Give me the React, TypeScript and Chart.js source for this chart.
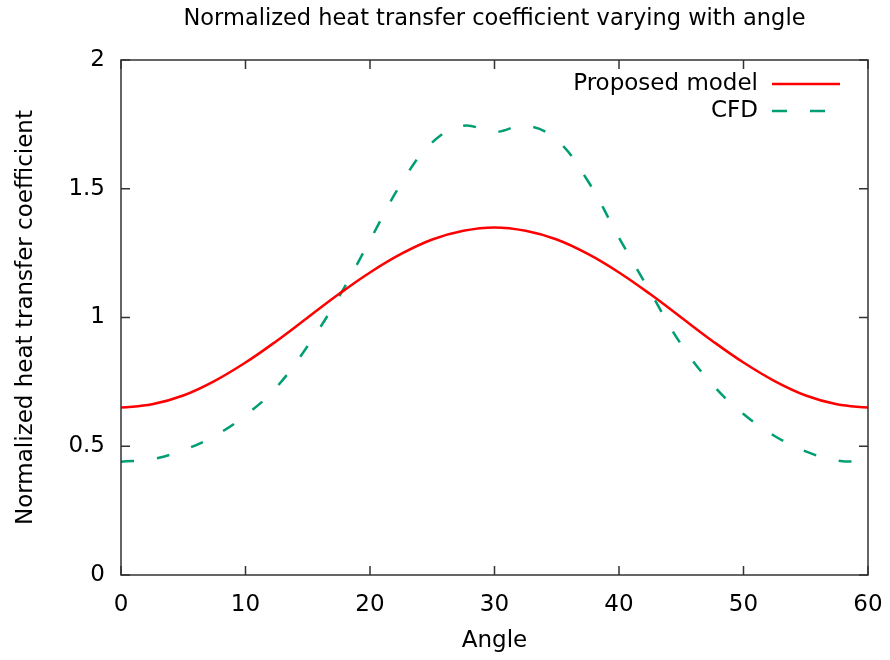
import React, { useEffect, useRef } from "react";
import { Chart, registerables } from "chart.js";

Chart.register(...registerables);

const angles = [0, 2.5, 5, 7.5, 10, 12.5, 15, 17.5, 20, 22.5, 25, 27.5, 30, 32.5, 35, 37.5, 40, 42.5, 45, 47.5, 50, 52.5, 55, 57.5, 60];
const proposedModel = [0.65, 0.663, 0.697, 0.753, 0.825, 0.909, 1.0, 1.091, 1.175, 1.247, 1.303, 1.337, 1.35, 1.337, 1.303, 1.247, 1.175, 1.091, 1.0, 0.909, 0.825, 0.753, 0.697, 0.663, 0.65];
const cfd = [0.44, 0.45, 0.485, 0.54, 0.62, 0.73, 0.89, 1.08, 1.3, 1.52, 1.68, 1.745, 1.72, 1.745, 1.69, 1.53, 1.31, 1.1, 0.895, 0.74, 0.625, 0.54, 0.48, 0.445, 0.44];
const seriesNames = ["Proposed model", "CFD"];
const titleText = "Normalized heat transfer coefficient varying with angle";
const xTitle = "Angle";
const yTitle = "Normalized heat transfer coefficient";

const FONT = '"DejaVu Sans", sans-serif';
const FS = 23;
const RED = "#ff0000";
const GREEN = "#009e73";

const framePlugin = {
  id: "frame",
  afterDraw(chart: any) {
    const { ctx, chartArea } = chart;
    const { left, right, top, bottom } = chartArea;
    ctx.save();
    ctx.strokeStyle = "#333";
    ctx.lineWidth = 1.5;
    ctx.strokeRect(left, top, right - left, bottom - top);
    const tl = 9;
    ctx.beginPath();
    chart.scales.x.ticks.forEach((t: any) => {
      const px = chart.scales.x.getPixelForValue(t.value);
      ctx.moveTo(px, bottom);
      ctx.lineTo(px, bottom - tl);
      ctx.moveTo(px, top);
      ctx.lineTo(px, top + tl);
    });
    chart.scales.y.ticks.forEach((t: any) => {
      const py = chart.scales.y.getPixelForValue(t.value);
      ctx.moveTo(left, py);
      ctx.lineTo(left + tl, py);
      ctx.moveTo(right, py);
      ctx.lineTo(right - tl, py);
    });
    ctx.stroke();

    // legend (gnuplot style, inside top-right)
    const items = [
      { label: seriesNames[0], color: RED, dash: [] as number[] },
      { label: seriesNames[1], color: GREEN, dash: [15, 23] },
    ];
    ctx.font = `${FS}px ${FONT}`;
    ctx.textAlign = "right";
    ctx.textBaseline = "middle";
    items.forEach((it, i) => {
      const y = top + 24 + i * 27;
      ctx.fillStyle = "#000";
      ctx.fillText(it.label, right - 110, y);
      ctx.beginPath();
      ctx.strokeStyle = it.color;
      ctx.lineWidth = 2.5;
      ctx.setLineDash(it.dash);
      ctx.moveTo(right - 96, y);
      ctx.lineTo(right - 28, y);
      ctx.stroke();
      ctx.setLineDash([]);
    });
    ctx.restore();
  },
};

export default function App() {
  const ref = useRef<HTMLCanvasElement | null>(null);
  useEffect(() => {
    if (!ref.current) return;
    const chart = new Chart(ref.current, {
      type: "line",
      data: {
        datasets: [
          {
            label: seriesNames[0],
            data: angles.map((a, i) => ({ x: a, y: proposedModel[i] })),
            borderColor: RED,
            borderWidth: 2.5,
            pointRadius: 0,
            tension: 0.4,
            fill: false,
          },
          {
            label: seriesNames[1],
            data: angles.map((a, i) => ({ x: a, y: cfd[i] })),
            borderColor: GREEN,
            borderWidth: 2.5,
            borderDash: [13, 23],
            pointRadius: 0,
            tension: 0.4,
            fill: false,
          },
        ],
      },
      options: {
        responsive: false,
        animation: false,
        layout: { padding: { left: 0, right: 22, top: 0, bottom: 0 } },
        plugins: {
          legend: { display: false },
          tooltip: { enabled: false },
          title: {
            display: true,
            fullSize: false,
            text: titleText,
            color: "#000",
            font: { family: FONT, size: 22.5, weight: "normal" },
            padding: { top: 5.5, bottom: 27.5 },
          },
        },
        scales: {
          x: {
            type: "linear",
            min: 0,
            max: 60,
            grid: { display: false, drawTicks: false },
            border: { display: false },
            ticks: {
              stepSize: 10,
              padding: 16,
              color: "#000",
              font: { family: FONT, size: FS },
              maxRotation: 0,
            },
            title: {
              display: true,
              text: xTitle,
              color: "#000",
              font: { family: FONT, size: FS },
              padding: { top: 0, bottom: 5 },
            },
            afterFit: (s: any) => {
              s.height = 85;
              s.paddingLeft = 0;
              s.paddingRight = 0;
            },
          },
          y: {
            type: "linear",
            min: 0,
            max: 2,
            grid: { display: false, drawTicks: false },
            border: { display: false },
            ticks: {
              stepSize: 0.5,
              padding: 16,
              color: "#000",
              font: { family: FONT, size: FS },
              callback: (v: any) => String(Number(v)),
            },
            title: {
              display: true,
              text: yTitle,
              color: "#000",
              font: { family: FONT, size: FS },
              padding: { top: 12, bottom: 0 },
            },
            afterFit: (s: any) => {
              s.width = 121;
            },
          },
        },
      },
      plugins: [framePlugin],
    });
    return () => chart.destroy();
  }, []);
  return (
    <div style={{ position: "fixed", left: 0, top: 0, width: 890, height: 660, background: "#fff" }}>
      <canvas ref={ref} width={890} height={660} />
    </div>
  );
}
